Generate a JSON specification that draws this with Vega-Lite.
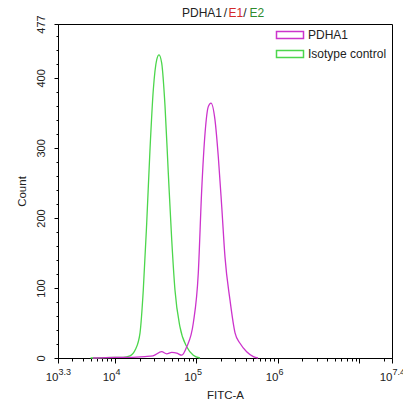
{
  "$schema": "https://vega.github.io/schema/vega-lite/v6.json",
  "width": 334,
  "height": 334,
  "autosize": "none",
  "padding": {"left": 58, "top": 24, "right": 11, "bottom": 49},
  "background": "white",
  "config": {
    "font": "Liberation Sans",
    "view": {"stroke": "black", "strokeWidth": 1},
    "axis": {"grid": false, "domainColor": "black", "tickColor": "black", "labelColor": "#222", "titleColor": "#222", "labelFont": "Liberation Sans", "titleFont": "Liberation Sans", "titleFontWeight": "normal", "titleFontSize": 11.5, "labelFontSize": 11, "labelFlush": false, "labelOverlap": false, "labelBound": false}
  },
  "datasets": {
    "curves": [
      {"series": "Isotype control", "logFITC": 3.70, "count": 0},
      {"series": "Isotype control", "logFITC": 4.00, "count": 1},
      {"series": "Isotype control", "logFITC": 4.10, "count": 1},
      {"series": "Isotype control", "logFITC": 4.184, "count": 3},
      {"series": "Isotype control", "logFITC": 4.25, "count": 12},
      {"series": "Isotype control", "logFITC": 4.307, "count": 36},
      {"series": "Isotype control", "logFITC": 4.347, "count": 97},
      {"series": "Isotype control", "logFITC": 4.389, "count": 193},
      {"series": "Isotype control", "logFITC": 4.429, "count": 297},
      {"series": "Isotype control", "logFITC": 4.470, "count": 383},
      {"series": "Isotype control", "logFITC": 4.512, "count": 426},
      {"series": "Isotype control", "logFITC": 4.540, "count": 433},
      {"series": "Isotype control", "logFITC": 4.573, "count": 421},
      {"series": "Isotype control", "logFITC": 4.614, "count": 359},
      {"series": "Isotype control", "logFITC": 4.654, "count": 264},
      {"series": "Isotype control", "logFITC": 4.696, "count": 169},
      {"series": "Isotype control", "logFITC": 4.736, "count": 97},
      {"series": "Isotype control", "logFITC": 4.798, "count": 44},
      {"series": "Isotype control", "logFITC": 4.880, "count": 16},
      {"series": "Isotype control", "logFITC": 4.961, "count": 4},
      {"series": "Isotype control", "logFITC": 5.043, "count": 0},
      {"series": "PDHA1", "logFITC": 3.73, "count": 0},
      {"series": "PDHA1", "logFITC": 4.00, "count": 1},
      {"series": "PDHA1", "logFITC": 4.184, "count": 1},
      {"series": "PDHA1", "logFITC": 4.368, "count": 2},
      {"series": "PDHA1", "logFITC": 4.466, "count": 3},
      {"series": "PDHA1", "logFITC": 4.573, "count": 9},
      {"series": "PDHA1", "logFITC": 4.634, "count": 6},
      {"series": "PDHA1", "logFITC": 4.696, "count": 8},
      {"series": "PDHA1", "logFITC": 4.757, "count": 7},
      {"series": "PDHA1", "logFITC": 4.819, "count": 4},
      {"series": "PDHA1", "logFITC": 4.880, "count": 16},
      {"series": "PDHA1", "logFITC": 4.961, "count": 50},
      {"series": "PDHA1", "logFITC": 5.022, "count": 121},
      {"series": "PDHA1", "logFITC": 5.064, "count": 240},
      {"series": "PDHA1", "logFITC": 5.105, "count": 321},
      {"series": "PDHA1", "logFITC": 5.145, "count": 359},
      {"series": "PDHA1", "logFITC": 5.178, "count": 364},
      {"series": "PDHA1", "logFITC": 5.227, "count": 340},
      {"series": "PDHA1", "logFITC": 5.268, "count": 287},
      {"series": "PDHA1", "logFITC": 5.310, "count": 216},
      {"series": "PDHA1", "logFITC": 5.350, "count": 144},
      {"series": "PDHA1", "logFITC": 5.411, "count": 83},
      {"series": "PDHA1", "logFITC": 5.473, "count": 36},
      {"series": "PDHA1", "logFITC": 5.534, "count": 21},
      {"series": "PDHA1", "logFITC": 5.616, "count": 9},
      {"series": "PDHA1", "logFITC": 5.698, "count": 2},
      {"series": "PDHA1", "logFITC": 5.755, "count": 0}
    ]
  },
  "resolve": {"axis": {"x": "independent", "y": "independent"}},
  "layer": [
    {
      "data": {"name": "curves"},
      "transform": [{"filter": "datum.series === 'Isotype control'"}],
      "mark": {"type": "line", "strokeWidth": 1.3, "interpolate": "monotone"},
      "encoding": {
        "x": {"field": "logFITC", "type": "quantitative", "scale": {"domain": [3.3, 7.4], "nice": false, "zero": false},
          "axis": {"orient": "bottom", "title": "FITC-A", "values": [3.3, 4, 5, 6, 7, 7.4], "labelExpr": "datum.value == 7 ? '' : '10'", "labelAlign": "right", "labelDx": 2, "labelBaseline": "top", "labelFontSize": 11.5, "tickSize": 5, "labelPadding": 8, "titlePadding": 7}},
        "y": {"field": "count", "type": "quantitative", "scale": {"domain": [0, 477], "nice": false, "zero": true},
          "axis": {"orient": "left", "title": "Count", "values": [0, 100, 200, 300, 400, 477], "labelAngle": -90, "labelAlign": "center", "labelBaseline": "middle", "tickSize": 4, "labelPadding": 13, "titlePadding": 8}},
        "color": {"field": "series", "type": "nominal",
          "scale": {"domain": ["PDHA1", "Isotype control"], "range": ["#cc33cc", "#4cd64c"]},
          "legend": {"title": null, "orient": "top-right", "offset": 5, "padding": 0, "symbolType": "M-2.7,-0.7H2.7V0.7H-2.7Z", "symbolSize": 100, "symbolFillColor": "white", "symbolStrokeWidth": 1.5, "labelOffset": 12, "labelFontSize": 12, "labelColor": "#222", "rowPadding": 5, "labelFont": "Liberation Sans"}}
      }
    },
    {
      "data": {"name": "curves"},
      "transform": [{"filter": "datum.series === 'PDHA1'"}],
      "mark": {"type": "line", "strokeWidth": 1.3, "interpolate": "monotone"},
      "encoding": {
        "x": {"field": "logFITC", "type": "quantitative",
          "axis": {"orient": "bottom", "title": null, "labels": false, "domain": false, "tickSize": 3,
            "values": [3.477, 3.602, 3.699, 3.778, 3.845, 3.903, 3.954, 4.301, 4.477, 4.602, 4.699, 4.778, 4.845, 4.903, 4.954, 5.301, 5.477, 5.602, 5.699, 5.778, 5.845, 5.903, 5.954, 6.301, 6.477, 6.602, 6.699, 6.778, 6.845, 6.903, 6.954, 7.301]}},
        "y": {"field": "count", "type": "quantitative",
          "axis": {"orient": "left", "title": null, "labels": false, "domain": false, "tickSize": 2,
            "values": [20, 40, 60, 80, 120, 140, 160, 180, 220, 240, 260, 280, 320, 340, 360, 380, 420, 440, 460]}},
        "color": {"field": "series", "type": "nominal"}
      }
    },
    {
      "data": {"values": [{}]},
      "mark": {"type": "text", "text": "PDHA1", "align": "left", "baseline": "middle", "fontSize": 12, "color": "#222", "dy": -11},
      "encoding": {
        "x": {"datum": 4.822, "type": "quantitative",
          "axis": {"orient": "bottom", "title": null, "domain": false, "ticks": false, "values": [3.3, 4, 5, 6, 7.4], "labelExpr": "datum.value == 3.3 ? '3.3' : datum.value == 7.4 ? '7.4' : format(datum.value, 'd')", "labelAlign": "left", "labelDx": 4, "labelBaseline": "top", "labelFontSize": 9, "labelPadding": 9}},
        "y": {"datum": 477, "type": "quantitative", "axis": null}
      }
    },
    {
      "data": {"values": [{}]},
      "mark": {"type": "text", "text": "/", "align": "center", "baseline": "middle", "fontSize": 12, "color": "#222", "dy": -11},
      "encoding": {
        "x": {"datum": 5.356, "type": "quantitative", "axis": null},
        "y": {"datum": 477, "type": "quantitative", "axis": null}
      }
    },
    {
      "data": {"values": [{}]},
      "mark": {"type": "text", "text": "E1", "align": "left", "baseline": "middle", "fontSize": 12, "color": "#d42a2a", "dy": -11},
      "encoding": {
        "x": {"datum": 5.393, "type": "quantitative", "axis": null},
        "y": {"datum": 477, "type": "quantitative", "axis": null}
      }
    },
    {
      "data": {"values": [{}]},
      "mark": {"type": "text", "text": "/", "align": "center", "baseline": "middle", "fontSize": 12, "color": "#222", "dy": -11},
      "encoding": {
        "x": {"datum": 5.596, "type": "quantitative", "axis": null},
        "y": {"datum": 477, "type": "quantitative", "axis": null}
      }
    },
    {
      "data": {"values": [{}]},
      "mark": {"type": "text", "text": "E2", "align": "left", "baseline": "middle", "fontSize": 12, "color": "#2e8b2e", "dy": -11},
      "encoding": {
        "x": {"datum": 5.651, "type": "quantitative", "axis": null},
        "y": {"datum": 477, "type": "quantitative", "axis": null}
      }
    }
  ]
}
